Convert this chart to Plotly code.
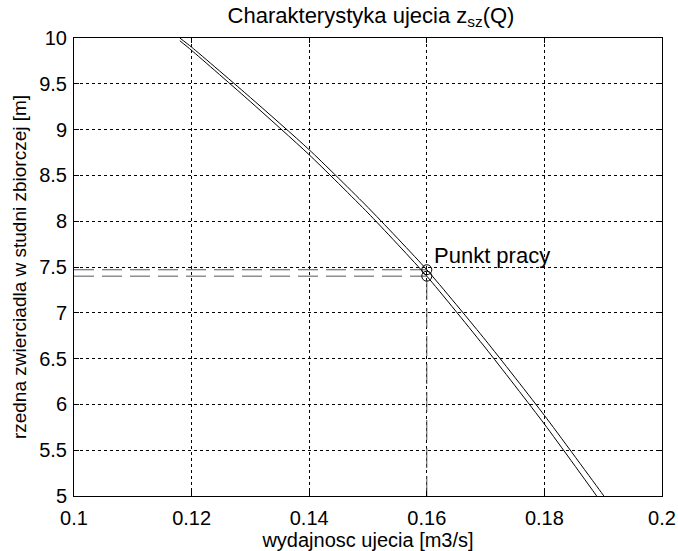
import plotly.graph_objects as go

# Data
Q = [0.118, 0.12, 0.13, 0.14, 0.15, 0.16, 0.17, 0.18, 0.19, 0.192]
z_upper = [10.0, 9.9, 9.35, 8.78, 8.15, 7.47, 6.70, 5.88, 5.01, 4.83]
z_lower = [9.97, 9.865, 9.305, 8.725, 8.09, 7.40, 6.615, 5.785, 4.90, 4.71]

Q_work = 0.16
z_work_upper = 7.47
z_work_lower = 7.40

x_ticks = [0.1, 0.12, 0.14, 0.16, 0.18, 0.2]
x_tick_text = ["0.1", "0.12", "0.14", "0.16", "0.18", "0.2"]
y_ticks = [5, 5.5, 6, 6.5, 7, 7.5, 8, 8.5, 9, 9.5, 10]
y_tick_text = ["5", "5.5", "6", "6.5", "7", "7.5", "8", "8.5", "9", "9.5", "10"]

font_family = "Liberation Sans, Arial, sans-serif"
FS = 20

fig = go.Figure()

helper = dict(color="#555555", width=1, dash="20px,8px")
fig.add_trace(go.Scatter(x=[0.1, Q_work], y=[z_work_upper, z_work_upper], mode="lines",
                         line=helper, showlegend=False, hoverinfo="skip"))
fig.add_trace(go.Scatter(x=[0.1, Q_work], y=[z_work_lower, z_work_lower], mode="lines",
                         line=helper, showlegend=False, hoverinfo="skip"))
fig.add_trace(go.Scatter(x=[Q_work, Q_work], y=[5, z_work_upper], mode="lines",
                         line=helper, showlegend=False, hoverinfo="skip"))

fig.add_trace(go.Scatter(x=Q, y=z_upper, mode="lines",
                         line=dict(color="black", width=1, shape="spline", smoothing=0.6),
                         showlegend=False))
fig.add_trace(go.Scatter(x=Q, y=z_lower, mode="lines",
                         line=dict(color="black", width=1, shape="spline", smoothing=0.6),
                         showlegend=False))
fig.add_trace(go.Scatter(x=[Q_work, Q_work], y=[z_work_upper, z_work_lower], mode="markers",
                         marker=dict(symbol="circle-open", size=10, color="black", line=dict(width=1)),
                         showlegend=False))

fig.add_annotation(x=0.1608, y=7.63, text="Punkt pracy", showarrow=False, xanchor="left",
                   yanchor="middle", font=dict(size=22, color="black", family=font_family))

axis_common = dict(showline=True, linecolor="black", linewidth=1, mirror="ticks",
                   ticks="inside", ticklen=5, tickcolor="black",
                   showgrid=True, gridcolor="black", gridwidth=1, griddash="3px,3px",
                   zeroline=False, automargin=False,
                   tickfont=dict(size=FS, color="black", family=font_family))

fig.update_xaxes(range=[0.1, 0.2], tickvals=x_ticks, ticktext=x_tick_text, ticklabelstandoff=4,
                 title=dict(text="wydajnosc ujecia [m3/s]", font=dict(size=FS, color="black", family=font_family), standoff=2),
                 **axis_common)
fig.update_yaxes(range=[5, 10], tickvals=y_ticks, ticktext=y_tick_text, ticklabelstandoff=2,
                 title=dict(text="rzedna zwierciadla w studni zbiorczej [m]", font=dict(size=19, color="black", family=font_family), standoff=7),
                 **axis_common)

fig.update_layout(
    width=678, height=551,
    margin=dict(l=74, r=16, t=38, b=55, autoexpand=False),
    plot_bgcolor="white", paper_bgcolor="white",
    title=dict(text="Charakterystyka ujecia z<sub>sz</sub>(Q)", x=0.5472, xanchor="center",
               y=0.973, yanchor="middle", font=dict(size=22, color="black", family=font_family)),
    font=dict(family=font_family, color="black"),
)

fig.write_html("out.html", config={"displayModeBar": False},
               post_script="document.body.style.margin='0';document.body.style.overflow='hidden';")
